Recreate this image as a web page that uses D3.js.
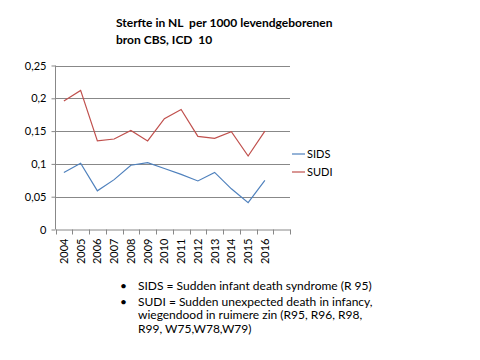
<!DOCTYPE html>
<html><head><meta charset="utf-8">
<script src="https://cdn.jsdelivr.net/npm/d3@7"></script>
<style>body{margin:0;background:#fff}svg{display:block}text{white-space:pre}</style>
</head><body>
<script>
const years = ["2004","2005","2006","2007","2008","2009","2010","2011","2012","2013","2014","2015","2016",""];
const sids = [0.087,0.101,0.059,0.076,0.098,0.102,0.093,0.084,0.074,0.087,0.062,0.041,0.075];
const sudi = [0.196,0.212,0.135,0.138,0.151,0.135,0.169,0.183,0.142,0.139,0.149,0.112,0.150];
const yTicks = [0,0.05,0.1,0.15,0.2,0.25];
const titleLines = ["Sterfte in NL  per 1000 levendgeborenen","bron CBS, ICD  10"];
const seriesNames = ["SIDS","SUDI"];
const notes = [
  ["SIDS = Sudden infant death syndrome (R 95)"],
  ["SUDI = Sudden unexpected death in infancy,","wiegendood in ruimere zin (R95, R96, R98,","R99, W75,W78,W79)"]
];
const colors = ["#4F81BD","#C0504D"];
const font = "Lato, 'Open Sans', sans-serif";

const svg = d3.select("body").append("svg").attr("width",480).attr("height",360);
const x = d3.scaleBand().domain(years.map((d,i)=>i)).range([55.5,290]);
const y = d3.scaleLinear().domain([0,0.25]).range([229.5,65.5]);

// gridlines
svg.append("g").selectAll("line").data(yTicks.slice(1)).join("line")
  .attr("x1",55.5).attr("x2",290).attr("y1",d=>Math.round(y(d))+0.5).attr("y2",d=>Math.round(y(d))+0.5)
  .attr("stroke","#888").attr("stroke-width",1);

// y axis
const ya = svg.append("g").attr("transform","translate(55.5,0)")
  .call(d3.axisLeft(y).tickValues(yTicks).tickSize(4).tickFormat(d=>d3.format(".2~f")(d).replace(".",",")));
ya.select(".domain").attr("stroke","#888").attr("d","M0,65.5V229.5");
ya.selectAll(".tick line").attr("stroke","#888");
ya.selectAll("text").attr("font-family",font).attr("font-size",11).attr("fill","#000").attr("x",-9);

// x axis
const xa = svg.append("g").attr("transform","translate(0,229.5)")
  .call(d3.axisBottom(x).tickValues([]).tickSizeOuter(0));
xa.select(".domain").attr("stroke","#888");
const edges = d3.range(years.length+1).map(i=>55.5+i*x.step());
xa.selectAll("line.tk").data(edges).join("line").attr("class","tk")
  .attr("x1",d=>Math.round(d)+0.5).attr("x2",d=>Math.round(d)+0.5).attr("y1",0).attr("y2",5).attr("stroke","#888");
xa.selectAll("text.yl").data(years).join("text").attr("class","yl")
  .attr("transform",(d,i)=>`translate(${x(i)+x.bandwidth()/2+4},9) rotate(-90)`)
  .attr("text-anchor","end").attr("font-family",font).attr("font-size",11).attr("fill","#000").text(d=>d);

// lines
const line = d3.line().x((d,i)=>x(i)+x.bandwidth()/2).y(d=>y(d));
[sids,sudi].forEach((s,k)=>{
  svg.append("path").datum(s).attr("d",line).attr("fill","none").attr("stroke",colors[k]).attr("stroke-width",1.2);
});

// legend
seriesNames.forEach((n,k)=>{
  const ly = 154 + k*18;
  svg.append("line").attr("x1",292).attr("x2",305).attr("y1",ly).attr("y2",ly).attr("stroke",colors[k]).attr("stroke-width",1.2);
  svg.append("text").attr("x",307).attr("y",ly+4).attr("font-family",font).attr("font-size",11).text(n);
});

// title
svg.append("g").selectAll("text").data(titleLines).join("text")
  .attr("x",116).attr("y",(d,i)=>27+i*17).attr("font-family",font).attr("font-size",12).attr("font-weight","bold").text(d=>d);

// notes
let ny = 290;
notes.forEach(par=>{
  svg.append("text").attr("x",120).attr("y",ny).attr("font-family",font).attr("font-size",12).text("•");
  par.forEach((t,j)=>{
    svg.append("text").attr("x",138).attr("y",ny+j*13.5).attr("font-family",font).attr("font-size",12).text(t);
  });
  ny += par.length*13.5 + 2;
});
</script>
</body></html>
